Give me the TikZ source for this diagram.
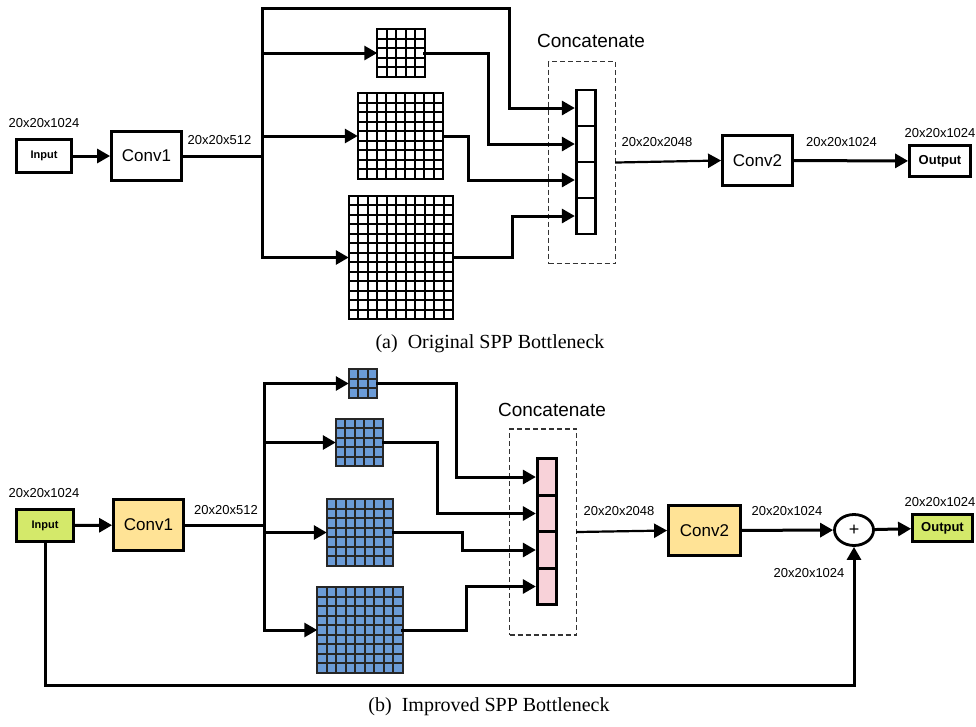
\documentclass[tikz,border=0pt]{standalone}
\usepackage{fontspec}
\setmainfont{Liberation Serif}
\setsansfont{Liberation Sans}
\usetikzlibrary{arrows.meta,shapes.geometric}

\definecolor{ioGreen}{HTML}{D4E96A}
\definecolor{convYellow}{HTML}{FFE396}
\definecolor{catPink}{HTML}{F8D2D9}
\definecolor{poolBlue}{HTML}{6B9BD7}

\tikzset{
	blk/.style={draw, line width=2.8pt, inner sep=0pt, font=\sffamily\fontsize{17}{20}\selectfont},
	io/.style={draw, line width=2.8pt, inner sep=0pt, font=\sffamily\bfseries\fontsize{13}{15}\selectfont},
	lbl/.style={inner sep=0pt, font=\sffamily\fontsize{13}{15}\selectfont},
	wire/.style={line width=3pt, line cap=rect},
	flow/.style={wire, -{Triangle[length=13pt,width=14pt]}},
	catcell/.style={draw, line width=2.8pt, minimum width=19.5pt, minimum height=36pt, inner sep=0pt},
	catbox/.style={draw=black!80, dash pattern=on 5pt off 3pt, line width=1.3pt, minimum width=67pt, inner sep=0pt},
	pool/.style={inner sep=0pt, outer sep=0pt},
	gridln/.style={line width=1.8pt, line cap=rect},
	capt/.style={font=\fontsize{20}{24}\selectfont}
}

% pooled map: name, centre, columns, rows, fill, line colour
\newcommand{\poolgrid}[6]{%
	\node[pool, fill=#5, minimum width=#3*9.5pt, minimum height=#4*9.5pt] (#1) at (#2) {};
	\foreach \k in {0,...,#3} \draw[gridln, #6] ([xshift=\k*9.5pt]#1.north west) -- ([xshift=\k*9.5pt]#1.south west);
	\foreach \k in {0,...,#4} \draw[gridln, #6] ([yshift=-\k*9.5pt]#1.north west) -- ([yshift=-\k*9.5pt]#1.north east);
}

\begin{document}
\begin{tikzpicture}[x=1pt, y=-1pt]
	\path[use as bounding box] (0,0) rectangle (976,726);

	%% (a) original SPP
	\node[io, font=\sffamily\bfseries\fontsize{11}{13}\selectfont, minimum width=55pt, minimum height=33pt] (inA) at (44,156) {Input};
	\node[blk, minimum width=70pt, minimum height=49pt] (conv1a) at (146.5,156) {Conv1};
	\coordinate (topA) at (262,8);
	\poolgrid{g1a}{401,53}{5}{5}{white}{black}
	\poolgrid{g2a}{400.5,136}{9}{9}{white}{black}
	\poolgrid{g3a}{401,257.5}{11}{13}{white}{black}
	\node[catbox, minimum height=202pt] (catA) at (582,162.5) {};
	\node[catcell] (cat1a) at (586,108) {};
	\node[catcell] (cat2a) at (586,144) {};
	\node[catcell] (cat3a) at (586,180) {};
	\node[catcell] (cat4a) at (586,216) {};
	\node[blk, minimum width=70pt, minimum height=50pt] (conv2a) at (757.5,160.5) {Conv2};
	\node[io, minimum width=61pt, minimum height=31pt] (outA) at (940,161) {Output};

	\draw[flow] (inA) -- (conv1a);
	\draw[wire] (conv1a.east) -- (conv1a.east -| topA);
	\draw[flow] (topA |- g3a.west) -- (topA) -| ([xshift=-65pt]cat1a.west) -- (cat1a.west);
	\draw[flow] (topA |- g1a.west) -- (g1a.west);
	\draw[flow] (topA |- g2a.west) -- (g2a.west);
	\draw[flow] (topA |- g3a.west) -- (g3a.west);
	\draw[flow] (g1a.east) -| ([xshift=-86pt]cat2a.west) -- (cat2a.west);
	\draw[flow] (g2a.east) -| ([xshift=-106pt]cat3a.west) -- (cat3a.west);
	\draw[flow] (g3a.east) -| ([xshift=-62pt]cat4a.west) -- (cat4a.west);
	\draw[flow, line width=2.2pt] (catA.east) -- (conv2a.west);
	\draw[flow] (conv2a) -- (outA);

	\node[lbl] at (44,123) {20x20x1024};
	\node[lbl] at (219.5,140.5) {20x20x512};
	\node[lbl, font=\sffamily\fontsize{19}{22}\selectfont] at (591,41) {Concatenate};
	\node[lbl] at (657,142) {20x20x2048};
	\node[lbl] at (841.5,142) {20x20x1024};
	\node[lbl] at (940,133) {20x20x1024};
	\node[capt] (capA) at (490,344) {(a)\enspace Original SPP Bottleneck};

	%% (b) improved SPP
	\node[io, fill=ioGreen, font=\sffamily\bfseries\fontsize{11}{13}\selectfont, minimum width=57pt, minimum height=32pt] (inB) at (45,525.5) {Input};
	\node[blk, fill=convYellow, minimum width=70pt, minimum height=51pt] (conv1b) at (148.5,525) {Conv1};
	\coordinate (topB) at (264,383.5);
	\poolgrid{g1b}{363,383.5}{3}{3}{poolBlue}{black!85}
	\poolgrid{g2b}{359.5,442.5}{5}{5}{poolBlue}{black!85}
	\poolgrid{g3b}{360,532.5}{7}{7}{poolBlue}{black!85}
	\poolgrid{g4b}{360,630}{9}{9}{poolBlue}{black!85}
	\node[catbox, minimum height=206pt] (catB) at (543,532) {};
	\node[catcell, fill=catPink, minimum height=36.5pt] (cat1b) at (547,477) {};
	\node[catcell, fill=catPink, minimum height=36.5pt] (cat2b) at (547,513.5) {};
	\node[catcell, fill=catPink, minimum height=36.5pt] (cat3b) at (547,550) {};
	\node[catcell, fill=catPink, minimum height=36.5pt] (cat4b) at (547,586.5) {};
	\node[blk, fill=convYellow, minimum width=72pt, minimum height=50pt] (conv2b) at (704.5,530.5) {Conv2};
	\node[ellipse, draw, line width=2.8pt, minimum width=39pt, minimum height=31pt, inner sep=0pt, font=\sffamily\fontsize{18}{20}\selectfont] (plus) at (854,530) {+};
	\node[io, fill=ioGreen, minimum width=60pt, minimum height=27pt] (outB) at (942.5,528) {Output};
	\coordinate (skipB) at (45,685);

	\draw[flow] (inB) -- (conv1b);
	\draw[wire] (conv1b.east) -- (conv1b.east -| topB);
	\draw[flow] (topB |- g4b.west) -- (topB) -- (g1b.west);
	\draw[flow] (topB |- g2b.west) -- (g2b.west);
	\draw[flow] (topB |- g3b.west) -- (g3b.west);
	\draw[flow] (topB |- g4b.west) -- (g4b.west);
	\draw[flow] (g1b.east) -| ([xshift=-79pt]cat1b.west) -- (cat1b.west);
	\draw[flow] (g2b.east) -| ([xshift=-98pt]cat2b.west) -- (cat2b.west);
	\draw[flow] (g3b.east) -| ([xshift=-73pt]cat3b.west) -- (cat3b.west);
	\draw[flow] (g4b.east) -| ([xshift=-69pt]cat4b.west) -- (cat4b.west);
	\draw[flow, line width=2.2pt] (catB.east) -- (conv2b.west);
	\draw[flow] (conv2b) -- (plus);
	\draw[flow] (plus) -- (outB);
	\draw[flow] (inB.south) -- (skipB) -| (plus.south);

	\node[lbl] at (44,493) {20x20x1024};
	\node[lbl] at (226,510) {20x20x512};
	\node[lbl, font=\sffamily\fontsize{19}{22}\selectfont] at (552,410) {Concatenate};
	\node[lbl] at (619,511) {20x20x2048};
	\node[lbl] at (787,511) {20x20x1024};
	\node[lbl] at (809,573) {20x20x1024};
	\node[lbl] at (940,502) {20x20x1024};
	\node[capt] (capB) at (489,707) {(b)\enspace Improved SPP Bottleneck};
\end{tikzpicture}
\end{document}
